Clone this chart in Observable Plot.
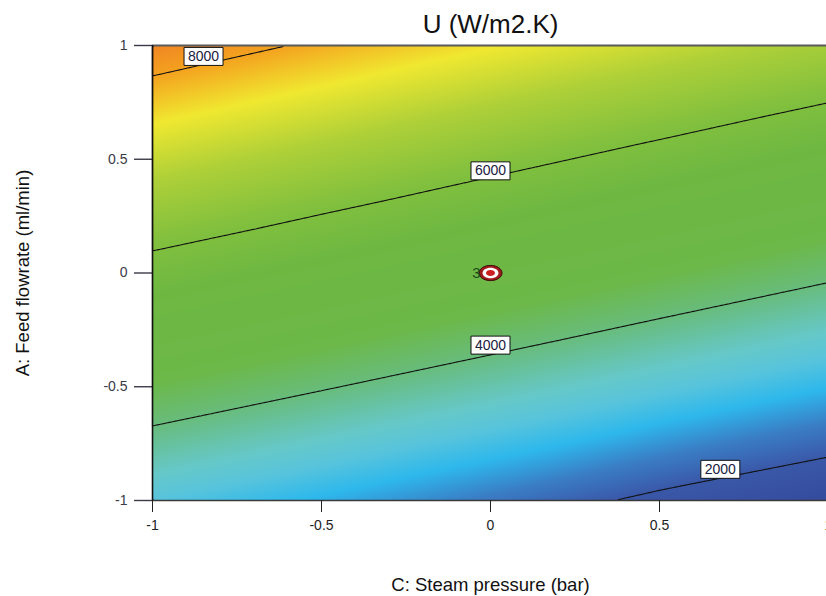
<!DOCTYPE html>
<html><head><meta charset="utf-8">
<script src="https://cdn.jsdelivr.net/npm/d3@7"></script>
<script src="https://cdn.jsdelivr.net/npm/@observablehq/plot@0.6"></script>
<style>
html,body{margin:0;padding:0;background:#fff;overflow:hidden;}
#chart{width:826px;height:596px;overflow:hidden;}
#chart svg{max-width:none !important;}
</style>
</head><body><div id="chart"></div><script>
// ---- data ----
const steamPressure = [-1, -0.5, 0, 0.5, 1];          // C (columns)
const feedFlowrate = [1, 0.5, 0, -0.5, -1];           // A (rows)
const uValues = [                                       // U (W/m2.K), rows = feedFlowrate
  [8348, 7913, 7478, 7066, 6653],
  [7048, 6624, 6200, 5778, 5355],
  [5748, 5335, 4921, 4515, 4108],
  [4448, 4045, 3642, 3230, 2818],
  [3148, 2745, 2330, 1880, 1494]
];
const contourLevels = [2000, 4000, 6000, 8000];
const labelC = [-0.849, 0, 0, 0.68];
const labelA = [0.952, 0.449, -0.317, -0.863];
const labelText = ["8000", "6000", "4000", "2000"];
const designC = [0], designA = [0], designCount = ["3"];
const xTicks = [-1, -0.5, 0, 0.5, 1];
const yTicks = [-1, -0.5, 0, 0.5, 1];
const colorStops = [1450, 2000, 2400, 2800, 3150, 3450, 4000, 4500, 5500, 6100, 6800, 7450, 8000, 8400];
const colorRange = ["#354a9c", "#3a58a8", "#3a7ec6", "#2eb8ec", "#58c4dc", "#66c8c8", "#68bc7c",
  "#6cb848", "#6eb842", "#82c03e", "#aed038", "#f0e830", "#f4a21f", "#ef8224"];
const titleText = "U (W/m2.K)";
const xLabel = "C: Steam pressure (bar)";
const yLabel = "A: Feed flowrate (ml/min)";

// ---- tables built from the arrays ----
const grid = [];
feedFlowrate.forEach((a, i) => steamPressure.forEach((c, j) => grid.push({C: c, A: a, U: uValues[i][j]})));
const labels = labelText.map((t, i) => ({C: labelC[i], A: labelA[i], t}));
const design = designCount.map((t, i) => ({C: designC[i], A: designA[i], t}));

// custom symbols
const boxSymbol = {draw(ctx) { ctx.moveTo(-19.5, -9); ctx.lineTo(19.5, -9); ctx.lineTo(19.5, 9); ctx.lineTo(-19.5, 9); ctx.closePath(); }};
const ellipseSymbol = {draw(ctx, size) {
  const r = Math.sqrt(size / Math.PI), rx = r, ry = r * 0.66, k = 0.5523;
  ctx.moveTo(rx, 0);
  ctx.bezierCurveTo(rx, ry * k, rx * k, ry, 0, ry);
  ctx.bezierCurveTo(-rx * k, ry, -rx, ry * k, -rx, 0);
  ctx.bezierCurveTo(-rx, -ry * k, -rx * k, -ry, 0, -ry);
  ctx.bezierCurveTo(rx * k, -ry, rx, -ry * k, rx, 0);
  ctx.closePath();
}};

const font = "'Liberation Sans', Arial, sans-serif";
const fmt = d => String(d);

const chart = Plot.plot({
  width: 830, height: 596,
  marginLeft: 152, marginRight: 2, marginTop: 45, marginBottom: 96,
  style: {fontFamily: font, background: "white", overflow: "visible", maxWidth: "none"},
  x: {domain: [-1, 1]},
  y: {domain: [-1, 1]},
  color: {type: "linear", domain: colorStops, range: colorRange, interpolate: "rgb"},
  marks: [
    Plot.raster(grid, {x: "C", y: "A", fill: "U", interpolate: "barycentric", x1: -1, x2: 1, y1: -1, y2: 1}),
    Plot.contour(grid, {x: "C", y: "A", value: "U", interpolate: "barycentric", thresholds: contourLevels,
      x1: -1, x2: 1, y1: -1, y2: 1, stroke: "#111", strokeWidth: 1.1, fill: "none"}),
    Plot.ruleY([1], {stroke: "#5a5a5a", strokeWidth: 2}),
    Plot.ruleY([-1], {stroke: "#3a3a3a", strokeWidth: 1.5}),
    Plot.axisY({ticks: yTicks, tickSize: 18, tickPadding: 7, tickFormat: fmt, fontSize: 14, color: "#3a3a48", label: null, strokeWidth: 1.4}),
    Plot.axisX({ticks: xTicks, tickSize: 12, tickPadding: 8, tickFormat: fmt, fontSize: 14, color: "#222", label: null}),
    Plot.ruleX([-1], {stroke: "#111", strokeWidth: 1.5}),
    Plot.dot(labels, {x: "C", y: "A", symbol: boxSymbol, r: 10, fill: "white", stroke: "#111", strokeWidth: 1}),
    Plot.text(labels, {x: "C", y: "A", text: "t", fontSize: 14, fill: "#202040"}),
    Plot.dot(design, {x: "C", y: "A", symbol: ellipseSymbol, r: 11.5, fill: "#a31a1a", stroke: "#3a0808", strokeWidth: 1}),
    Plot.dot(design, {x: "C", y: "A", symbol: ellipseSymbol, r: 8, fill: "white"}),
    Plot.dot(design, {x: "C", y: "A", symbol: ellipseSymbol, r: 4.5, fill: "#cc1f1f"}),
    Plot.text(design, {x: "C", y: "A", text: "t", dx: -14, fontSize: 15, fill: "#1d4a1d"}),
    Plot.text([titleText], {frameAnchor: "top", dy: -21, lineAnchor: "middle", fontSize: 26, fill: "#111"}),
    Plot.text([xLabel], {frameAnchor: "bottom", dy: 85, lineAnchor: "middle", fontSize: 18.5, fill: "#111"}),
    Plot.text([yLabel], {frameAnchor: "left", dx: -129, rotate: -90, textAnchor: "middle", lineAnchor: "middle", fontSize: 18.5, fill: "#111"})
  ]
});
document.getElementById("chart").appendChild(chart);
</script></body></html>
